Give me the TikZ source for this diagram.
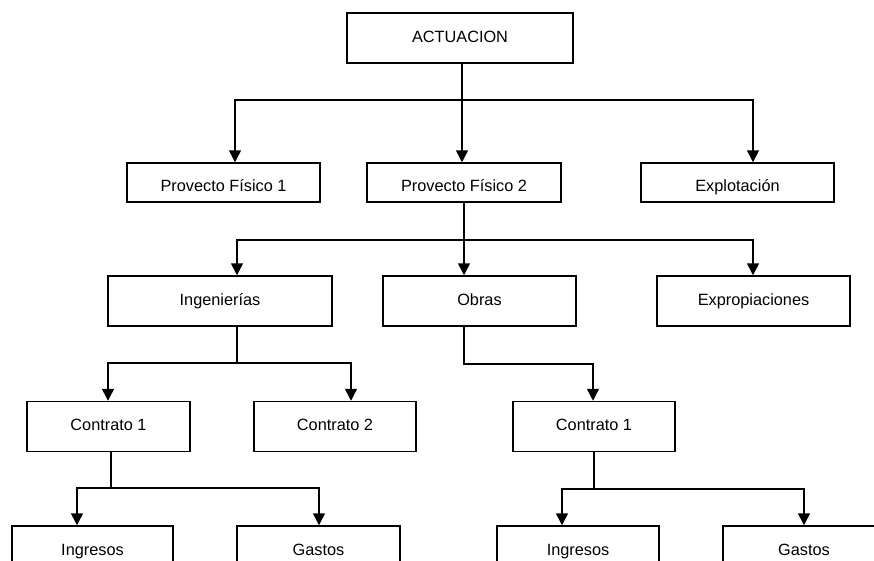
\documentclass[tikz,border=0pt]{standalone}
\usepackage{fontspec}
\setmainfont{Liberation Sans}
\usetikzlibrary{arrows.meta}
\begin{document}
\begin{tikzpicture}[x=1pt,y=-1pt,
  box/.style={draw, line width=1.5pt, minimum height=39pt, inner sep=0pt,
    text height=11.5pt, text depth=3.5pt, font=\fontsize{16.3}{19}\selectfont},
  tall/.style={minimum height=50pt},
  low/.style={text height=21pt},
  link/.style={line width=1.5pt},
  arr/.style={line width=1.5pt, -{Triangle[width=12pt,length=12pt]}}]
\useasboundingbox (0,0) rectangle (874,560);
\clip (0,0) rectangle (874,560);
% level 1
\node[box, tall, minimum width=226pt] (act) at (460,38) {ACTUACION};
% level 2
\node[box, low, minimum width=193pt] (pf1) at (223.5,182.5) {Provecto Físico 1};
\node[box, low, minimum width=194pt] (pf2) at (464,182.5) {Provecto Físico 2};
\node[box, low, minimum width=193pt] (expl) at (737.5,182.5) {Explotación};
% level 3
\node[box, tall, minimum width=224pt] (ing) at (220,301) {Ingenierías};
\node[box, tall, minimum width=193pt] (obras) at (479.5,301) {Obras};
\node[box, tall, minimum width=193pt] (expr) at (753.5,301) {Expropiaciones};
% level 4
\node[box, tall, minimum width=163pt] (c1) at (108.5,426.5) {Contrato 1};
\node[box, tall, minimum width=162pt] (c2) at (335,426.5) {Contrato 2};
\node[box, tall, minimum width=162pt] (c1r) at (594,426.5) {Contrato 1};
% level 5
\node[box, tall, minimum width=161pt] (ingL) at (92.5,551) {Ingresos};
\node[box, tall, minimum width=163pt] (gasL) at (318.5,551) {Gastos};
\node[box, tall, minimum width=162pt] (ingR) at (578,551) {Ingresos};
\node[box, tall, minimum width=162pt] (gasR) at (804,551) {Gastos};
% junctions
\coordinate (j1) at (462,100);
\coordinate (j2) at (464,240);
\coordinate (j3) at (237,363);
\coordinate (j4) at (111,488);
\coordinate (j5) at (594,489);
% act -> level 2
\draw[arr] ([xshift=2pt]act.south) -- ([xshift=-2pt]pf2.north);
\draw[arr] (j1) -| ([xshift=11.5pt]pf1.north);
\draw[arr] (j1) -| ([xshift=15.5pt]expl.north);
% pf2 -> level 3
\draw[arr] (pf2.south) -- ([xshift=-15.5pt]obras.north);
\draw[arr] (j2) -| ([xshift=17pt]ing.north);
\draw[arr] (j2) -| ([xshift=-0.5pt]expr.north);
% ing -> contratos
\draw[link] ([xshift=17pt]ing.south) -- (j3);
\draw[arr] (j3) -| ([xshift=-0.5pt]c1.north);
\draw[arr] (j3) -| ([xshift=16pt]c2.north);
% obras -> contrato 1
\draw[arr] ([xshift=-15.5pt]obras.south) |- (593,364) -| ([xshift=-1pt]c1r.north);
% c1 -> ingresos/gastos
\draw[link] ([xshift=2.5pt]c1.south) -- (j4);
\draw[arr] (j4) -| ([xshift=-15.5pt]ingL.north);
\draw[arr] (j4) -| ([xshift=0.5pt]gasL.north);
% c1r -> ingresos/gastos
\draw[link] (c1r.south) -- (j5);
\draw[arr] (j5) -| ([xshift=-16pt]ingR.north);
\draw[arr] (j5) -| (gasR.north);
\end{tikzpicture}
\end{document}
